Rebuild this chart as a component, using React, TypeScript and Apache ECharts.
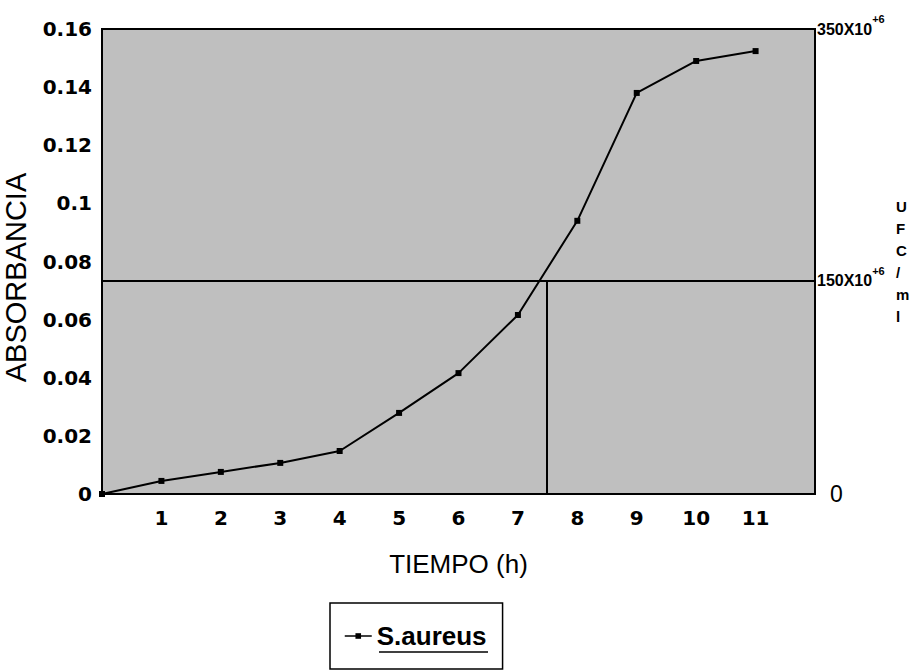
import React, { useEffect, useRef } from "react";
import * as echarts from "echarts";

const hours = [0, 1, 2, 3, 4, 5, 6, 7, 8, 9, 10, 11];
const absorbance = [0, 0.0045, 0.0076, 0.0107, 0.0148, 0.0279, 0.0416, 0.0616, 0.094, 0.138, 0.149, 0.1524];
const xTickLabels = [1, 2, 3, 4, 5, 6, 7, 8, 9, 10, 11];
const thresholdAbs = 0.0733;
const thresholdTime = 7.48;
const rightTickValues = [0, 0.0733, 0.16];
const rightTickLabels = ["0", "150X10", "350X10"];
const seriesName = "S.aureus";

export default function App() {
  const ref = useRef<HTMLDivElement>(null);
  useEffect(() => {
    const chart = echarts.init(ref.current!, undefined, { renderer: "svg" });
    const tickFont = { fontFamily: "DejaVu Sans", fontWeight: "bold" as const, fontSize: 20, color: "#000" };
    chart.setOption({
      animation: false,
      backgroundColor: "#fff",
      grid: {
        left: 102,
        top: 29,
        right: 99,
        bottom: 178,
        outerBoundsMode: "none",
        containLabel: false,
        show: true,
        backgroundColor: "#bfbfbf",
        borderColor: "#000",
        borderWidth: 2,
      },
      legend: {
        left: 330,
        top: 603,
        orient: "horizontal",
        padding: [20, 16, 20, 14],
        borderColor: "#000",
        borderWidth: 1.5,
        itemWidth: 27,
        itemHeight: 7,
        itemGap: 5,
        lineStyle: { width: 1.5 },
        textStyle: { fontFamily: "Liberation Sans", fontWeight: "bold", fontSize: 26, color: "#000" },
        data: [seriesName],
      },
      xAxis: {
        type: "value",
        min: 0,
        max: 12,
        interval: 1,
        name: "TIEMPO (h)",
        nameLocation: "middle",
        nameGap: 57,
        nameTextStyle: { fontFamily: "Liberation Sans", fontSize: 26, color: "#000" },
        axisLine: { show: false },
        axisTick: { show: false },
        splitLine: { show: false },
        axisLabel: { ...tickFont, margin: 14, customValues: xTickLabels },
      },
      yAxis: [
        {
          type: "value",
          min: 0,
          max: 0.16,
          interval: 0.02,
          name: "ABSORBANCIA",
          nameLocation: "middle",
          nameGap: 72,
          nameTextStyle: { fontFamily: "Liberation Sans", fontSize: 29, color: "#000", padding: [0, 32, 0, 0] },
          axisLine: { show: false },
          axisTick: { show: false },
          splitLine: { show: false },
          axisLabel: { ...tickFont, margin: 10 },
        },
        {
          type: "value",
          min: 0,
          max: 0.16,
          position: "right",
          name: "U\nF\nC\n/\nm\nl",
          nameLocation: "middle",
          nameRotate: 0,
          nameGap: 81,
          nameTextStyle: {
            fontFamily: "Liberation Sans",
            fontWeight: "bold",
            fontSize: 15,
            lineHeight: 22,
            color: "#000",
            padding: [14, 0, 0, 0],
          },
          axisLine: { show: false },
          axisTick: { show: false },
          splitLine: { show: false },
          axisLabel: {
            margin: 2,
            customValues: rightTickValues,
            formatter: (v: number) => {
              const i = rightTickValues.findIndex((t) => Math.abs(t - v) < 1e-9);
              if (i < 0) return "";
              if (rightTickValues[i] === 0) return "{z|" + rightTickLabels[i] + "}";
              return "{n|" + rightTickLabels[i] + "}{s|+6}";
            },
            rich: {
              z: { fontFamily: "Liberation Sans", fontSize: 23, color: "#000", padding: [0, 0, 0, 13] },
              n: { fontFamily: "Liberation Sans", fontWeight: "bold", fontSize: 16, color: "#000" },
              s: {
                fontFamily: "Liberation Sans",
                fontWeight: "bold",
                fontSize: 11,
                color: "#000",
                verticalAlign: "top",
                padding: [0, 0, 20, 0],
              },
            },
          },
        },
      ],
      series: [
        {
          name: seriesName,
          type: "line",
          data: hours.map((h, i) => [h, absorbance[i]]),
          symbol: "rect",
          symbolSize: 6,
          itemStyle: { color: "#000" },
          lineStyle: { color: "#000", width: 2 },
          markLine: {
            silent: true,
            precision: 6,
            symbol: ["none", "none"],
            label: { show: false },
            lineStyle: { color: "#000", type: "solid", width: 2 },
            data: [
              { yAxis: thresholdAbs },
              [{ coord: [thresholdTime, 0] }, { coord: [thresholdTime, thresholdAbs] }],
            ],
          },
        },
      ],
      graphic: [
        {
          type: "line",
          shape: { x1: 379, y1: 652, x2: 488, y2: 652 },
          style: { stroke: "#000", lineWidth: 1.5 },
        },
      ],
    });
    return () => chart.dispose();
  }, []);
  return <div ref={ref} style={{ position: "fixed", left: 0, top: 0, width: 914, height: 672 }} />;
}
